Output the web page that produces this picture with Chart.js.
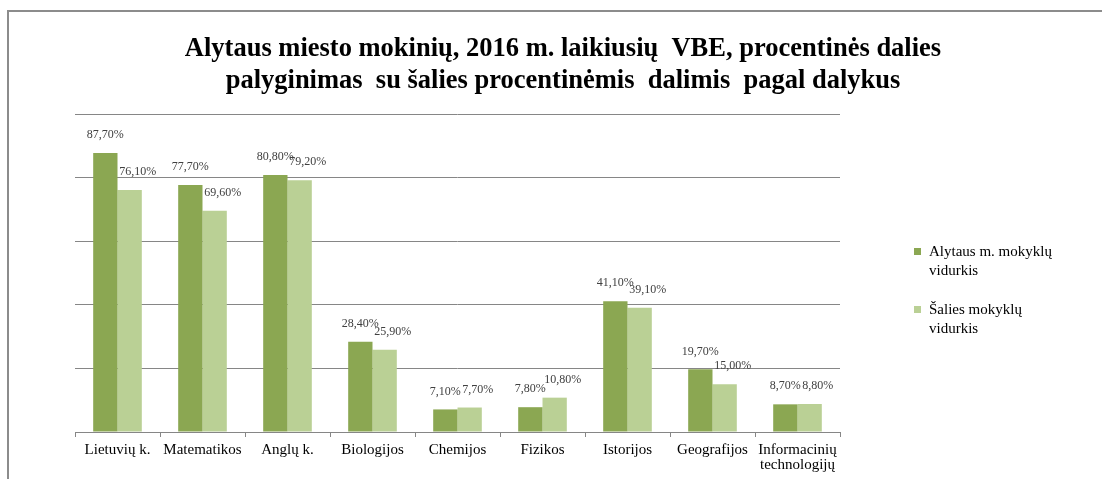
<!DOCTYPE html>
<html>
<head>
<meta charset="utf-8">
<script src="https://cdn.jsdelivr.net/npm/chart.js@4"></script>
<style>
  body { margin: 0; background: #fff; overflow: hidden; }
  #frame { position: absolute; left: 7px; top: 10px; width: 1110px; height: 480px; border: 2px solid #8c8c8c; }
  #c { position: absolute; left: 0; top: 0; }
</style>
</head>
<body>
<div id="frame"></div>
<canvas id="c" width="1102" height="479"></canvas>
<script>
// Duomenys
const dalykai = ['Lietuvių k.', 'Matematikos', 'Anglų k.', 'Biologijos', 'Chemijos', 'Fizikos', 'Istorijos', 'Geografijos', ['Informacinių', 'technologijų']];
const alytausVidurkis = [87.7, 77.7, 80.8, 28.4, 7.1, 7.8, 41.1, 19.7, 8.7];
const saliesVidurkis = [76.1, 69.6, 79.2, 25.9, 7.7, 10.8, 39.1, 15.0, 8.8];
const serijuPavadinimai = [['Alytaus m. mokyklų', 'vidurkis'], ['Šalies mokyklų', 'vidurkis']];
const pavadinimas = ['Alytaus miesto mokinių, 2016 m. laikiusių  VBE, procentinės dalies', 'palyginimas  su šalies procentinėmis  dalimis  pagal dalykus'];

const SERIF = '"Liberation Serif", "Times New Roman", serif';
Chart.defaults.font.family = SERIF;
Chart.defaults.color = '#404040';

function formatas(v) {
    return v.toFixed(2).replace('.', ',') + '%';
}

// Pavadinimas, reikšmių etiketės ir legenda
const piesimas = {
    id: 'piesimas',
    afterDatasetsDraw(chart) {
        const ctx = chart.ctx;
        const area = chart.chartArea;
        ctx.save();

        // pavadinimas
        ctx.fillStyle = '#000';
        ctx.font = 'bold 26.5px ' + SERIF;
        ctx.textAlign = 'center';
        ctx.textBaseline = 'middle';
        pavadinimas.forEach((eil, i) => ctx.fillText(eil, 563, 49 + i * 32));

        // reikšmės virš stulpelių
        ctx.font = '12px ' + SERIF;
        ctx.fillStyle = '#404040';
        chart.data.datasets.forEach((ds, di) => {
            chart.getDatasetMeta(di).data.forEach((bar, i) => {
                const dx = di === 0 ? 0 : 8;
                ctx.fillText(formatas(ds.data[i]), bar.x + dx, bar.y - 18);
            });
        });

        // legenda
        ctx.textAlign = 'left';
        ctx.font = '15px ' + SERIF;
        chart.data.datasets.forEach((ds, di) => {
            const y0 = area.top + 138 + di * 58;
            ctx.fillStyle = ds.backgroundColor;
            ctx.fillRect(area.right + 74, y0 - 4, 7, 7);
            ctx.fillStyle = '#000';
            serijuPavadinimai[di].forEach((eil, k) => ctx.fillText(eil, area.right + 89, y0 + k * 19));
        });
        ctx.restore();
    }
};

new Chart(document.getElementById('c'), {
    type: 'bar',
    data: {
        labels: dalykai,
        datasets: [{
            label: serijuPavadinimai[0].join(' '),
            data: alytausVidurkis,
            backgroundColor: '#8ba752',
            barPercentage: 1,
            categoryPercentage: 0.572
        }, {
            label: serijuPavadinimai[1].join(' '),
            data: saliesVidurkis,
            backgroundColor: '#bad095',
            barPercentage: 1,
            categoryPercentage: 0.572
        }]
    },
    options: {
        responsive: false,
        animation: false,
        layout: { padding: { left: 75, right: 262, top: 114, bottom: 0 } },
        plugins: {
            legend: { display: false },
            title: { display: false },
            tooltip: { enabled: false }
        },
        scales: {
            x: {
                grid: { display: true, drawOnChartArea: false, drawTicks: true, tickLength: 5, color: '#868686', offset: true },
                border: { color: '#868686' },
                ticks: { padding: 6, color: '#000', font: { size: 15, lineHeight: 1.0 }, maxRotation: 0, autoSkip: false }
            },
            y: {
                min: 0,
                max: 100,
                ticks: { stepSize: 20, display: false },
                grid: { color: '#868686', drawTicks: false },
                border: { display: false }
            }
        }
    },
    plugins: [piesimas]
});
</script>
</body>
</html>
